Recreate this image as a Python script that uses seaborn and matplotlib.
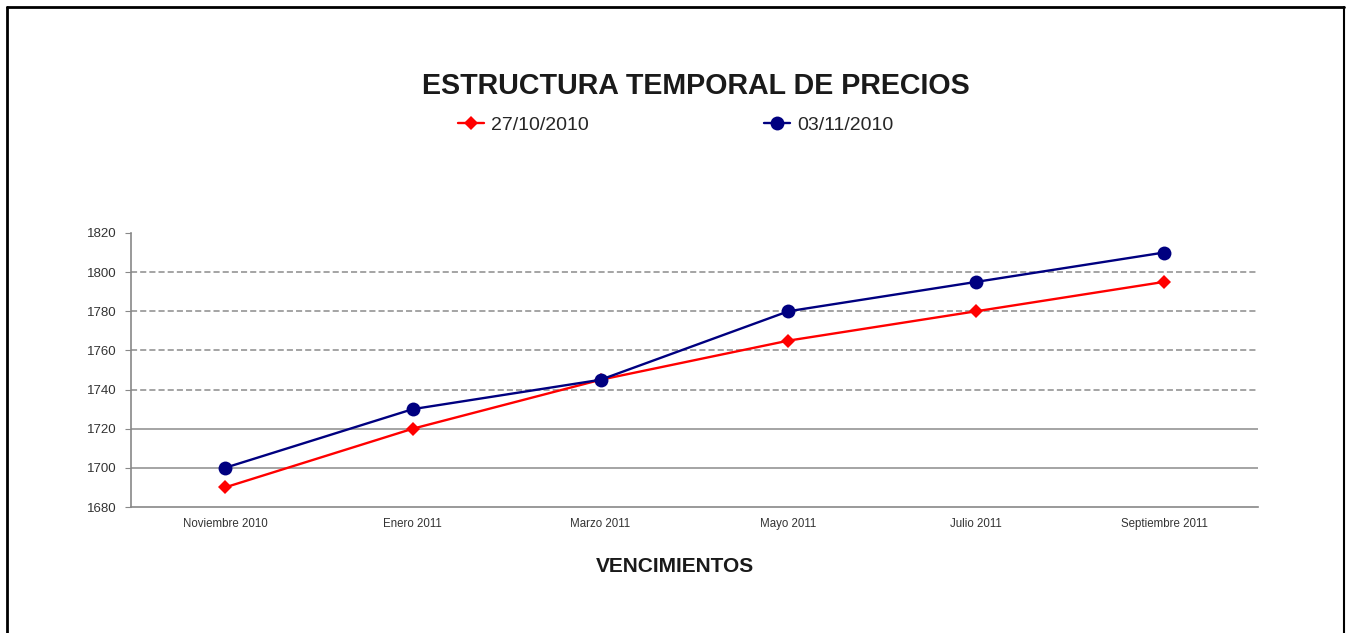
import pandas as pd
import seaborn as sns
import matplotlib.pyplot as plt
from matplotlib.lines import Line2D

# data
vencimientos = ["Noviembre 2010", "Enero 2011", "Marzo 2011", "Mayo 2011", "Julio 2011", "Septiembre 2011"]
precios_27oct = [1690, 1720, 1745, 1765, 1780, 1795]
precios_03nov = [1700, 1730, 1745, 1780, 1795, 1810]
fechas = ["27/10/2010", "03/11/2010"]
yticks = [1680, 1700, 1720, 1740, 1760, 1780, 1800, 1820]

df = pd.DataFrame({
    "vencimiento": vencimientos * 2,
    "precio": precios_27oct + precios_03nov,
    "fecha": [fechas[0]] * 6 + [fechas[1]] * 6,
})

sns.set_style("white")
plt.rcParams["font.family"] = ["Liberation Sans", "DejaVu Sans"]

fig = plt.figure(figsize=(13.46, 6.33), dpi=100)
ax = fig.add_axes([0.0973, 0.199, 0.8373, 0.433])

sns.lineplot(data=df, x="vencimiento", y="precio", hue="fecha", style="fecha",
             markers=["D", "o"], dashes=False, sort=False,
             palette=["#FF0000", "#000080"], linewidth=1.7, ax=ax)

# marker sizes
msizes = [7, 10]
for ln, ms in zip(ax.lines[:2], msizes):
    ln.set_markersize(ms)
    ln.set_markeredgewidth(0)

ax.set_xlim(-0.5, 5.5)
ax.set_ylim(1680, 1820)
ax.set_yticks(yticks)
ax.set_yticklabels([str(v) for v in yticks], fontsize=9.5, color="#333333")
ax.set_xticks(range(6))
ax.set_xticklabels(vencimientos, fontsize=8.3, color="#333333")
ax.set_xticks([0.5, 1.5, 2.5, 3.5, 4.5], minor=True)
ax.tick_params(axis="x", which="major", length=0, pad=8)
ax.tick_params(axis="x", which="minor", length=4, color="#888888", direction="out")
ax.tick_params(axis="y", length=4, color="#888888", direction="out", left=True, pad=6)

for s in ["top", "right"]:
    ax.spines[s].set_visible(False)
for s in ["left", "bottom"]:
    ax.spines[s].set_color("#888888")
    ax.spines[s].set_linewidth(1.2)

# gridlines: solid for the lower two, dashed above
for v in yticks[1:-1]:
    ls = "-" if v < 1740 else (0, (4, 2))
    ax.axhline(v, color="#8c8c8c", lw=1.1, ls=ls, zorder=0)

ax.set_xlabel("")
ax.set_ylabel("")
fig.text(675 / 1346, 1 - 567 / 633, "VENCIMIENTOS", ha="center", va="center",
         fontsize=15, fontweight="bold", color="#1a1a1a")

fig.text(696 / 1346, 1 - 86 / 633, "ESTRUCTURA TEMPORAL DE PRECIOS", ha="center", va="center",
         fontsize=20.6, fontweight="bold", color="#1a1a1a")

handles, labels = ax.get_legend_handles_labels()
leg = ax.legend(handles, labels, loc="center", bbox_to_anchor=(676 / 1346, 1 - 125 / 633),
                bbox_transform=fig.transFigure, ncol=2, frameon=False,
                fontsize=14, handlelength=1.3, handletextpad=0.4, columnspacing=9.0)
for h, ms in zip(leg.legend_handles, msizes):
    h.set_markersize(ms)
    h.set_markeredgewidth(0)
    h.set_linewidth(1.7)

# outer frame (no bottom edge)
fig.add_artist(Line2D([7 / 1346, 7 / 1346], [0, 1 - 7 / 633], color="black", lw=2, transform=fig.transFigure))
fig.add_artist(Line2D([7 / 1346, 1344 / 1346], [1 - 7 / 633, 1 - 7 / 633], color="black", lw=2, transform=fig.transFigure))
fig.add_artist(Line2D([1344 / 1346, 1344 / 1346], [0, 1 - 7 / 633], color="black", lw=1.5, transform=fig.transFigure))

fig.savefig("out.png", dpi=100)
